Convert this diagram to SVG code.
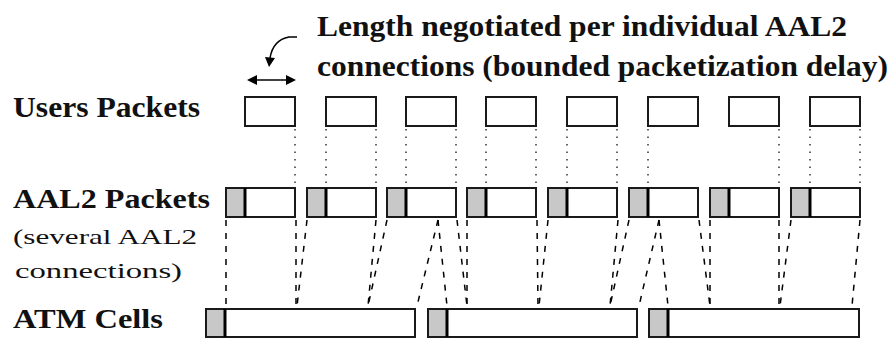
<svg xmlns="http://www.w3.org/2000/svg" width="893" height="339" viewBox="0 0 893 339">
<style>
text{font-family:'Liberation Serif','Times New Roman',serif;fill:#111}
.b{font-weight:bold}
.box{fill:#fff;stroke:#1a1a1a;stroke-width:2}
.hdr{fill:#c8c8c8;stroke:none}
.sep{stroke:#000;stroke-width:3}
.dot{stroke:#333;stroke-width:1.5;stroke-dasharray:1.5 6;fill:none}
.dash{stroke:#000;stroke-width:1.5;stroke-dasharray:6 7;fill:none}
.arr{stroke:#000;stroke-width:1.5;fill:none}
</style>
<rect width="893" height="339" fill="#fff"/>
<g id="caption">
<text class="b" x="317" y="36" font-size="29" textLength="530" lengthAdjust="spacingAndGlyphs">Length negotiated per individual AAL2</text>
<text class="b" x="317" y="76" font-size="29" textLength="571" lengthAdjust="spacingAndGlyphs">connections (bounded packetization delay)</text>
<path class="arr" d="M297,37 L289,37 Q273,40 270,58"/>
<polygon points="269,67 265,57 275,58" fill="#000"/>
<line class="arr" x1="252" y1="80" x2="291" y2="80"/>
<polygon points="247,80 257,75 257,85" fill="#000"/>
<polygon points="296,80 286,75 286,85" fill="#000"/>
</g>
<g id="labels">
<text class="b" x="13" y="117" font-size="30" textLength="187" lengthAdjust="spacingAndGlyphs">Users Packets</text>
<text class="b" x="13" y="208" font-size="28" textLength="197" lengthAdjust="spacingAndGlyphs">AAL2 Packets</text>
<text x="13" y="244" font-size="21" textLength="184" lengthAdjust="spacingAndGlyphs">(several AAL2</text>
<text x="15" y="278" font-size="21" textLength="167" lengthAdjust="spacingAndGlyphs">connections)</text>
<text class="b" x="13" y="328" font-size="28" textLength="150" lengthAdjust="spacingAndGlyphs">ATM Cells</text>
</g>
<g id="connectors">
<g class="dot">
<line x1="295" y1="129" x2="295" y2="185"/>
<line x1="326" y1="129" x2="326" y2="185"/>
<line x1="376" y1="129" x2="376" y2="185"/>
<line x1="406" y1="129" x2="406" y2="185"/>
<line x1="456" y1="129" x2="456" y2="185"/>
<line x1="486" y1="129" x2="486" y2="185"/>
<line x1="536" y1="129" x2="536" y2="185"/>
<line x1="567" y1="129" x2="567" y2="185"/>
<line x1="617" y1="129" x2="617" y2="185"/>
<line x1="648" y1="129" x2="648" y2="185"/>
<line x1="779" y1="129" x2="779" y2="185"/>
<line x1="810" y1="129" x2="810" y2="185"/>
<line x1="860" y1="129" x2="860" y2="185"/>
</g>
<g class="dash">
<line x1="226" y1="220" x2="226" y2="306"/>
<line x1="296" y1="220" x2="296" y2="306"/>
<line x1="307" y1="220" x2="297" y2="306"/>
<line x1="376" y1="220" x2="368" y2="306"/>
<line x1="387" y1="220" x2="368" y2="306"/>
<line x1="438" y1="220" x2="417" y2="306"/>
<line x1="438" y1="220" x2="447" y2="306"/>
<line x1="457" y1="220" x2="467" y2="306"/>
<line x1="467" y1="220" x2="467" y2="306"/>
<line x1="537" y1="220" x2="538" y2="306"/>
<line x1="548" y1="220" x2="539" y2="306"/>
<line x1="618" y1="220" x2="610" y2="306"/>
<line x1="629" y1="220" x2="610" y2="306"/>
<line x1="659" y1="220" x2="639" y2="306"/>
<line x1="659" y1="220" x2="668" y2="306"/>
<line x1="699" y1="220" x2="710" y2="306"/>
<line x1="710" y1="220" x2="710" y2="306"/>
<line x1="779" y1="220" x2="779" y2="306"/>
<line x1="791" y1="220" x2="780" y2="306"/>
<line x1="860" y1="220" x2="852" y2="306"/>
</g>
</g>
<g id="users">
<rect class="box" x="245" y="97" width="50" height="29"/>
<rect class="box" x="326" y="97" width="50" height="29"/>
<rect class="box" x="406" y="97" width="50" height="29"/>
<rect class="box" x="486" y="97" width="50" height="29"/>
<rect class="box" x="567" y="97" width="50" height="29"/>
<rect class="box" x="648" y="97" width="50" height="29"/>
<rect class="box" x="729" y="97" width="50" height="29"/>
<rect class="box" x="810" y="97" width="50" height="29"/>
</g>
<g id="aal2">
<g><rect class="box" x="226" y="188" width="69" height="29"/><rect class="hdr" x="227" y="189" width="18" height="27"/><line class="sep" x1="245" y1="188" x2="245" y2="217"/></g>
<g><rect class="box" x="307" y="188" width="69" height="29"/><rect class="hdr" x="308" y="189" width="18" height="27"/><line class="sep" x1="326" y1="188" x2="326" y2="217"/></g>
<g><rect class="box" x="387" y="188" width="69" height="29"/><rect class="hdr" x="388" y="189" width="18" height="27"/><line class="sep" x1="406" y1="188" x2="406" y2="217"/></g>
<g><rect class="box" x="467" y="188" width="69" height="29"/><rect class="hdr" x="468" y="189" width="18" height="27"/><line class="sep" x1="486" y1="188" x2="486" y2="217"/></g>
<g><rect class="box" x="548" y="188" width="69" height="29"/><rect class="hdr" x="549" y="189" width="18" height="27"/><line class="sep" x1="567" y1="188" x2="567" y2="217"/></g>
<g><rect class="box" x="629" y="188" width="69" height="29"/><rect class="hdr" x="630" y="189" width="18" height="27"/><line class="sep" x1="648" y1="188" x2="648" y2="217"/></g>
<g><rect class="box" x="710" y="188" width="69" height="29"/><rect class="hdr" x="711" y="189" width="18" height="27"/><line class="sep" x1="729" y1="188" x2="729" y2="217"/></g>
<g><rect class="box" x="791" y="188" width="69" height="29"/><rect class="hdr" x="792" y="189" width="18" height="27"/><line class="sep" x1="810" y1="188" x2="810" y2="217"/></g>
</g>
<g id="atm">
<g><rect class="box" x="206" y="309" width="209" height="28"/><rect class="hdr" x="207" y="310" width="18" height="26"/><line class="sep" x1="225" y1="309" x2="225" y2="337"/></g>
<g><rect class="box" x="428" y="309" width="209" height="28"/><rect class="hdr" x="429" y="310" width="18" height="26"/><line class="sep" x1="447" y1="309" x2="447" y2="337"/></g>
<g><rect class="box" x="649" y="309" width="210" height="28"/><rect class="hdr" x="650" y="310" width="18" height="26"/><line class="sep" x1="668" y1="309" x2="668" y2="337"/></g>
</g>
</svg>
